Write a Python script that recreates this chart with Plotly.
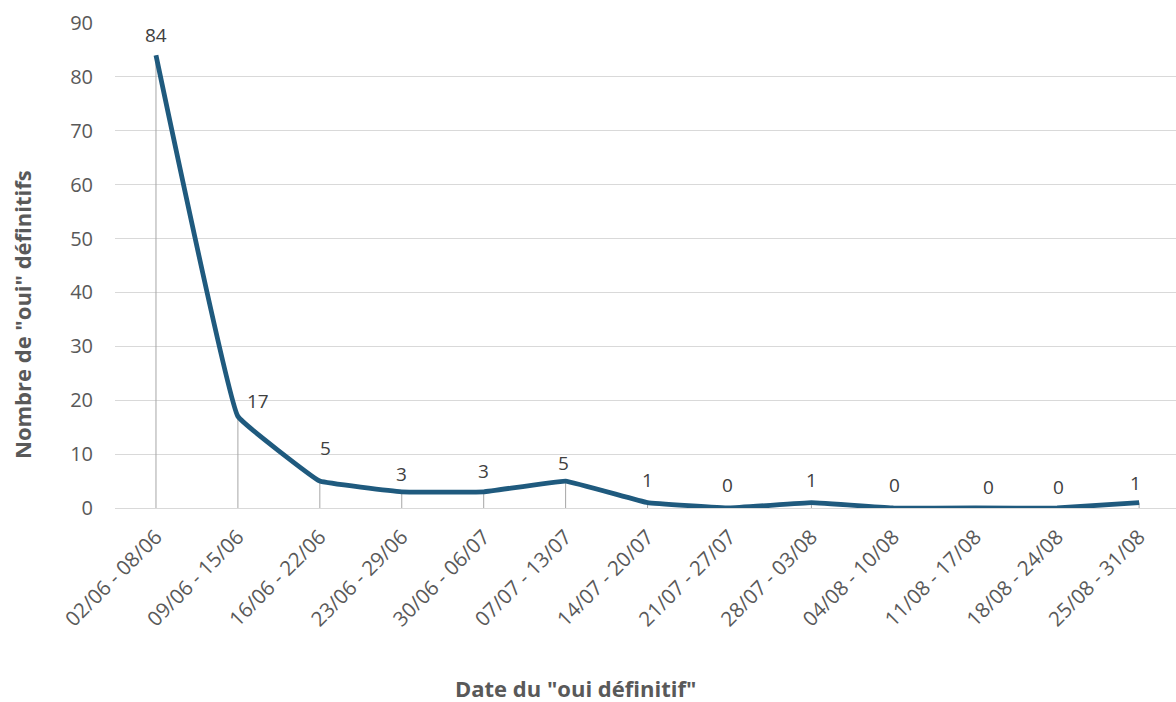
import plotly.graph_objects as go

categories = ["02/06 - 08/06", "09/06 - 15/06", "16/06 - 22/06", "23/06 - 29/06",
              "30/06 - 06/07", "07/07 - 13/07", "14/07 - 20/07", "21/07 - 27/07",
              "28/07 - 03/08", "04/08 - 10/08", "11/08 - 17/08", "18/08 - 24/08",
              "25/08 - 31/08"]
values = [84, 17, 5, 3, 3, 5, 1, 0, 1, 0, 0, 0, 1]

# label offsets in pixels (dx, dy) as placed in the original chart
label_dx = [0, 20, 6, 0, 0, -2, 0, -2, 0, 1, 13, 1, -4]
label_dy = [20, 15, 33, 18, 21, 18, 23, 23, 23, 23, 21, 21, 20]

LINE = "#1f5a7e"
TXT = "#595959"
FONT = "Open Sans, Noto Sans, sans-serif"

fig = go.Figure()

# drop lines from each point to the axis
dx, dy = [], []
for c, v in zip(categories, values):
    dx += [c, c, None]
    dy += [0, v, None]
fig.add_trace(go.Scatter(x=dx, y=dy, mode="lines",
                         line=dict(color="#a6a6a6", width=1),
                         hoverinfo="skip", showlegend=False))

fig.add_trace(go.Scatter(x=categories, y=values, mode="lines",
                         line=dict(color=LINE, width=4.8, shape="spline", smoothing=0.2),
                         cliponaxis=False, showlegend=False))

for c, v, ox, oy in zip(categories, values, label_dx, label_dy):
    fig.add_annotation(x=c, y=v, text=str(v), showarrow=False,
                       xshift=ox, yshift=oy, yanchor="middle",
                       font=dict(family=FONT, size=19, color="#404040"))

fig.add_annotation(text='<b>Date du "oui définitif"</b>', xref="paper", yref="paper",
                   x=(575 - 115) / 1061, y=-(688 - 508) / 485, showarrow=False,
                   yanchor="middle", xanchor="center",
                   font=dict(family=FONT, size=22, color=TXT))
fig.add_annotation(text='<b>Nombre de "oui" définitifs</b>', xref="paper", yref="paper",
                   x=-(115 - 22) / 1061, y=(508 - 315) / 485, showarrow=False,
                   textangle=-90, xanchor="center", yanchor="middle",
                   font=dict(family=FONT, size=22, color=TXT))

fig.update_layout(
    width=1176, height=702,
    margin=dict(l=115, r=0, t=23, b=194),
    paper_bgcolor="white", plot_bgcolor="white",
    font=dict(family=FONT, color=TXT),
    xaxis=dict(type="category", range=[-0.5, 12.45], tickangle=-45,
               showgrid=False, showline=False, zeroline=False, ticks="",
               ticklabelstandoff=12,
               tickfont=dict(family=FONT, size=20.5, color=TXT)),
    yaxis=dict(range=[0, 90], dtick=10, showgrid=True, gridcolor="#d9d9d9",
               gridwidth=1.3, zeroline=True, zerolinecolor="#d9d9d9", zerolinewidth=1.3,
               showline=False, ticks="outside", ticklen=17, tickcolor="rgba(0,0,0,0)",
               tickfont=dict(family=FONT, size=20, color=TXT)),
)

fig.write_html("out.html", config={"displayModeBar": False},
               post_script="document.body.style.margin='0';")
